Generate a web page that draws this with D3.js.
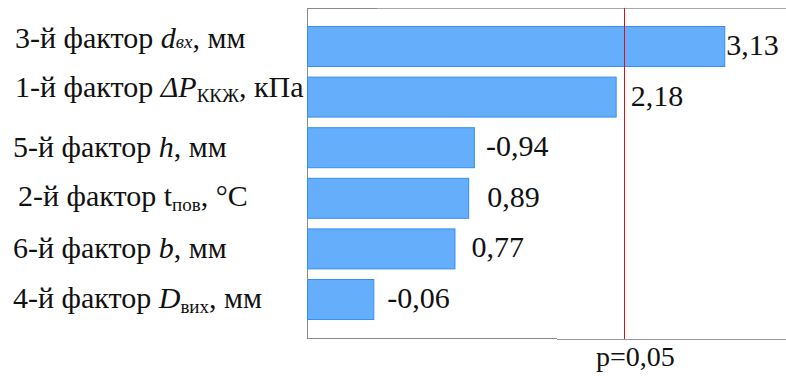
<!DOCTYPE html>
<html>
<head>
<meta charset="utf-8">
<script src="https://cdn.jsdelivr.net/npm/d3@7"></script>
<style>
  html, body { margin: 0; padding: 0; background: #fff; }
  svg { display: block; }
</style>
</head>
<body>
<svg id="chart" width="786" height="376"></svg>
<script>
// Factor labels, split into styled runs (italic symbols, subscripts)
const factorLabels = [
  [{ t: "3-й фактор " }, { t: "d", it: true }, { t: "вх", it: true, small: true }, { t: ", мм" }],
  [{ t: "1-й фактор " }, { t: "ΔP", it: true }, { t: "ККЖ", sub: true }, { t: ", кПа" }],
  [{ t: "5-й фактор " }, { t: "h", it: true }, { t: ", мм" }],
  [{ t: "2-й фактор t" }, { t: "пов", sub: true }, { t: ", °C" }],
  [{ t: "6-й фактор " }, { t: "b", it: true }, { t: ", мм" }],
  [{ t: "4-й фактор " }, { t: "D", it: true }, { t: "вих", sub: true }, { t: ", мм" }]
];

// Standardized effect estimates (signed)
const effects = [3.13, 2.18, -0.94, 0.89, 0.77, -0.06];

// Critical value for p = 0.05
const criticalValue = 2.25;
const criticalLabel = "p=0,05";

// Axis extent of the effect scale
const axisDomain = [-0.52, 3.67];

const serifFont = "'Liberation Serif', 'DejaVu Serif', serif";

const svg = d3.select("#chart").attr("font-family", serifFont);
const plotLeft = 307, plotRight = 786, plotTop = 8, plotBottom = 338;

const x = d3.scaleLinear().domain(axisDomain).range([plotLeft, plotRight]);
const y = d3.scaleBand()
  .domain(d3.range(effects.length))
  .range([21.2, 324.8])
  .paddingInner(0.19)
  .paddingOuter(0.095);

const fmt = d3.formatLocale({ decimal: ",", thousands: " ", grouping: [3], currency: ["", ""], minus: "-" }).format(".2f");

// Frame
const frame = svg.append("g").attr("fill", "none").attr("stroke-width", 1);
frame.append("line").attr("x1", plotLeft).attr("x2", 377).attr("y1", plotTop + 0.5).attr("y2", plotTop + 0.5).attr("stroke", "#8a8a8a");
frame.append("line").attr("x1", 377).attr("x2", plotRight).attr("y1", plotTop + 0.5).attr("y2", plotTop + 0.5).attr("stroke", "#a8a8a8");
frame.append("line").attr("x1", plotLeft + 0.5).attr("x2", plotLeft + 0.5).attr("y1", plotTop).attr("y2", plotBottom).attr("stroke", "#8a8a8a");
frame.append("line").attr("x1", plotLeft).attr("x2", 557).attr("y1", plotBottom + 0.5).attr("y2", plotBottom + 0.5).attr("stroke", "#8a8a8a");
frame.append("line").attr("x1", 557).attr("x2", plotRight).attr("y1", plotBottom + 1.5).attr("y2", plotBottom + 1.5).attr("stroke", "#9a9a9a");

// Bars: length is the absolute effect
svg.append("g").selectAll("rect")
  .data(effects)
  .join("rect")
  .attr("x", x(axisDomain[0]) + 0.5)
  .attr("y", (d, i) => y(i) + 0.5)
  .attr("width", d => x(Math.abs(d)) - x(axisDomain[0]))
  .attr("height", y.bandwidth() - 1)
  .attr("fill", "#64aefc")
  .attr("stroke", "#3a8ef0")
  .attr("stroke-width", 1);

// Critical value line
svg.append("line")
  .attr("x1", Math.round(x(criticalValue)) + 0.5)
  .attr("x2", Math.round(x(criticalValue)) + 0.5)
  .attr("y1", plotTop)
  .attr("y2", plotBottom + 1)
  .attr("stroke", "#e01010")
  .attr("stroke-width", 1);

svg.append("text")
  .attr("x", 596)
  .attr("y", 366)
  .attr("font-family", serifFont)
  .attr("font-size", 28)
  .attr("fill", "#111")
  .text(criticalLabel);

// Value labels beside each bar
const valueGap = [2, 15, 12, 19, 17, 14];
svg.append("g").selectAll("text")
  .data(effects)
  .join("text")
  .attr("x", (d, i) => x(Math.abs(d)) + valueGap[i])
  .attr("y", (d, i) => y(i) + y.bandwidth() / 2 + 8.5)
  .attr("font-family", serifFont)
  .attr("font-size", 30)
  .attr("fill", "#111")
  .text(d => fmt(d));

// Factor labels on the left
const labelX = [15, 15, 13, 18, 13, 13];
const labelDy = [1, 0, 9, 8, 9, 8];
const labels = svg.append("g").selectAll("text")
  .data(factorLabels)
  .join("text")
  .attr("x", (d, i) => labelX[i])
  .attr("y", (d, i) => y(i) + y.bandwidth() / 2 + labelDy[i])
  .attr("font-family", serifFont)
  .attr("font-size", 30)
  .attr("fill", "#111");

labels.each(function (parts) {
  const t = d3.select(this);
  let shifted = 0;
  parts.forEach(p => {
    const span = t.append("tspan").text(p.t);
    if (p.it) span.attr("font-style", "italic");
    if (p.small) span.attr("font-size", 19);
    if (p.sub) {
      span.attr("font-size", 19).attr("dy", 5);
      shifted = 5;
    } else if (shifted) {
      span.attr("dy", -shifted);
      shifted = 0;
    }
  });
});
</script>
</body>
</html>
